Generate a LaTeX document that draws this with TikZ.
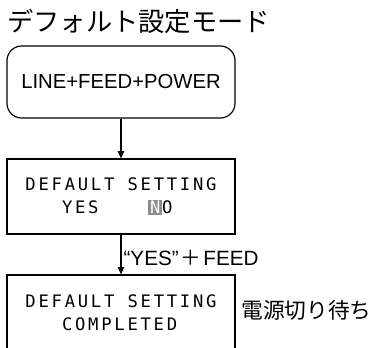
\documentclass[tikz,border=0pt]{standalone}
\usepackage{fontspec}
\setmainfont{Liberation Sans}
\newfontfamily\jpfont{Noto Sans CJK JP}
\newfontfamily\lcdfont[LetterSpace=16]{DejaVu Sans Mono}
\usetikzlibrary{arrows.meta}
\definecolor{lcdGray}{HTML}{8C8C8C}
\newcommand\lcdmark[1]{{\setlength{\fboxsep}{1.2pt}\colorbox{lcdGray}{\textcolor{white}{#1}}}}
\newcommand\jpplus{\hspace{1.5pt}{\jpfont ＋}\hspace{1.5pt}}
\tikzset{
  flow line/.style={draw=black, line width=0.9pt, -{Triangle[length=5.5pt,width=4.8pt]}},
  key box/.style={draw, line width=0.9pt, rounded corners=11pt, minimum width=171pt, minimum height=54pt, inner sep=0pt, font=\fontsize{15.2pt}{18pt}\selectfont},
  lcd box/.style={draw, line width=0.9pt, minimum width=171pt, minimum height=56.25pt, inner sep=0pt, align=left, font=\lcdfont\fontsize{12.9pt}{17.6pt}\selectfont},
  title text/.style={inner sep=0pt, font=\jpfont\fontsize{19.7pt}{22pt}\selectfont},
  key text/.style={inner sep=0pt, font=\fontsize{15.5pt}{18pt}\selectfont},
  note text/.style={inner sep=0pt, font=\jpfont\fontsize{16.3pt}{18pt}\selectfont},
}

\begin{document}
\begin{tikzpicture}[x=0.75pt, y=-0.75pt]
  \useasboundingbox (0,0) rectangle (374,347);

  % Title of the mode
  \node[title text, anchor=west] (title) at (7,21.5) {デフォルト設定モード};

  % Key combination and the two display states
  \node[key box] (keys) at (121,82) {LINE+FEED+POWER};
  \node[lcd box] (ask) at (121,196.5) {DEFAULT SETTING\\\hphantom{DEF}YES\hphantom{AUL}\hspace{10pt}\lcdmark{N}O};
  \node[lcd box] (done) at (121,312.5) {DEFAULT SETTING\\\hphantom{DEF}COMPLETED};

  % Arrows between the states
  \draw[flow line] (keys) -- (ask);
  \draw[flow line] (ask) -- (done)
    node[key text, pos=0.58, anchor=west, xshift=1.5pt] (press) {“YES”\jpplus FEED};

  % Note beside the last display
  \node[note text, anchor=west] (wait) at (241,310) {電源切り待ち};
\end{tikzpicture}
\end{document}
